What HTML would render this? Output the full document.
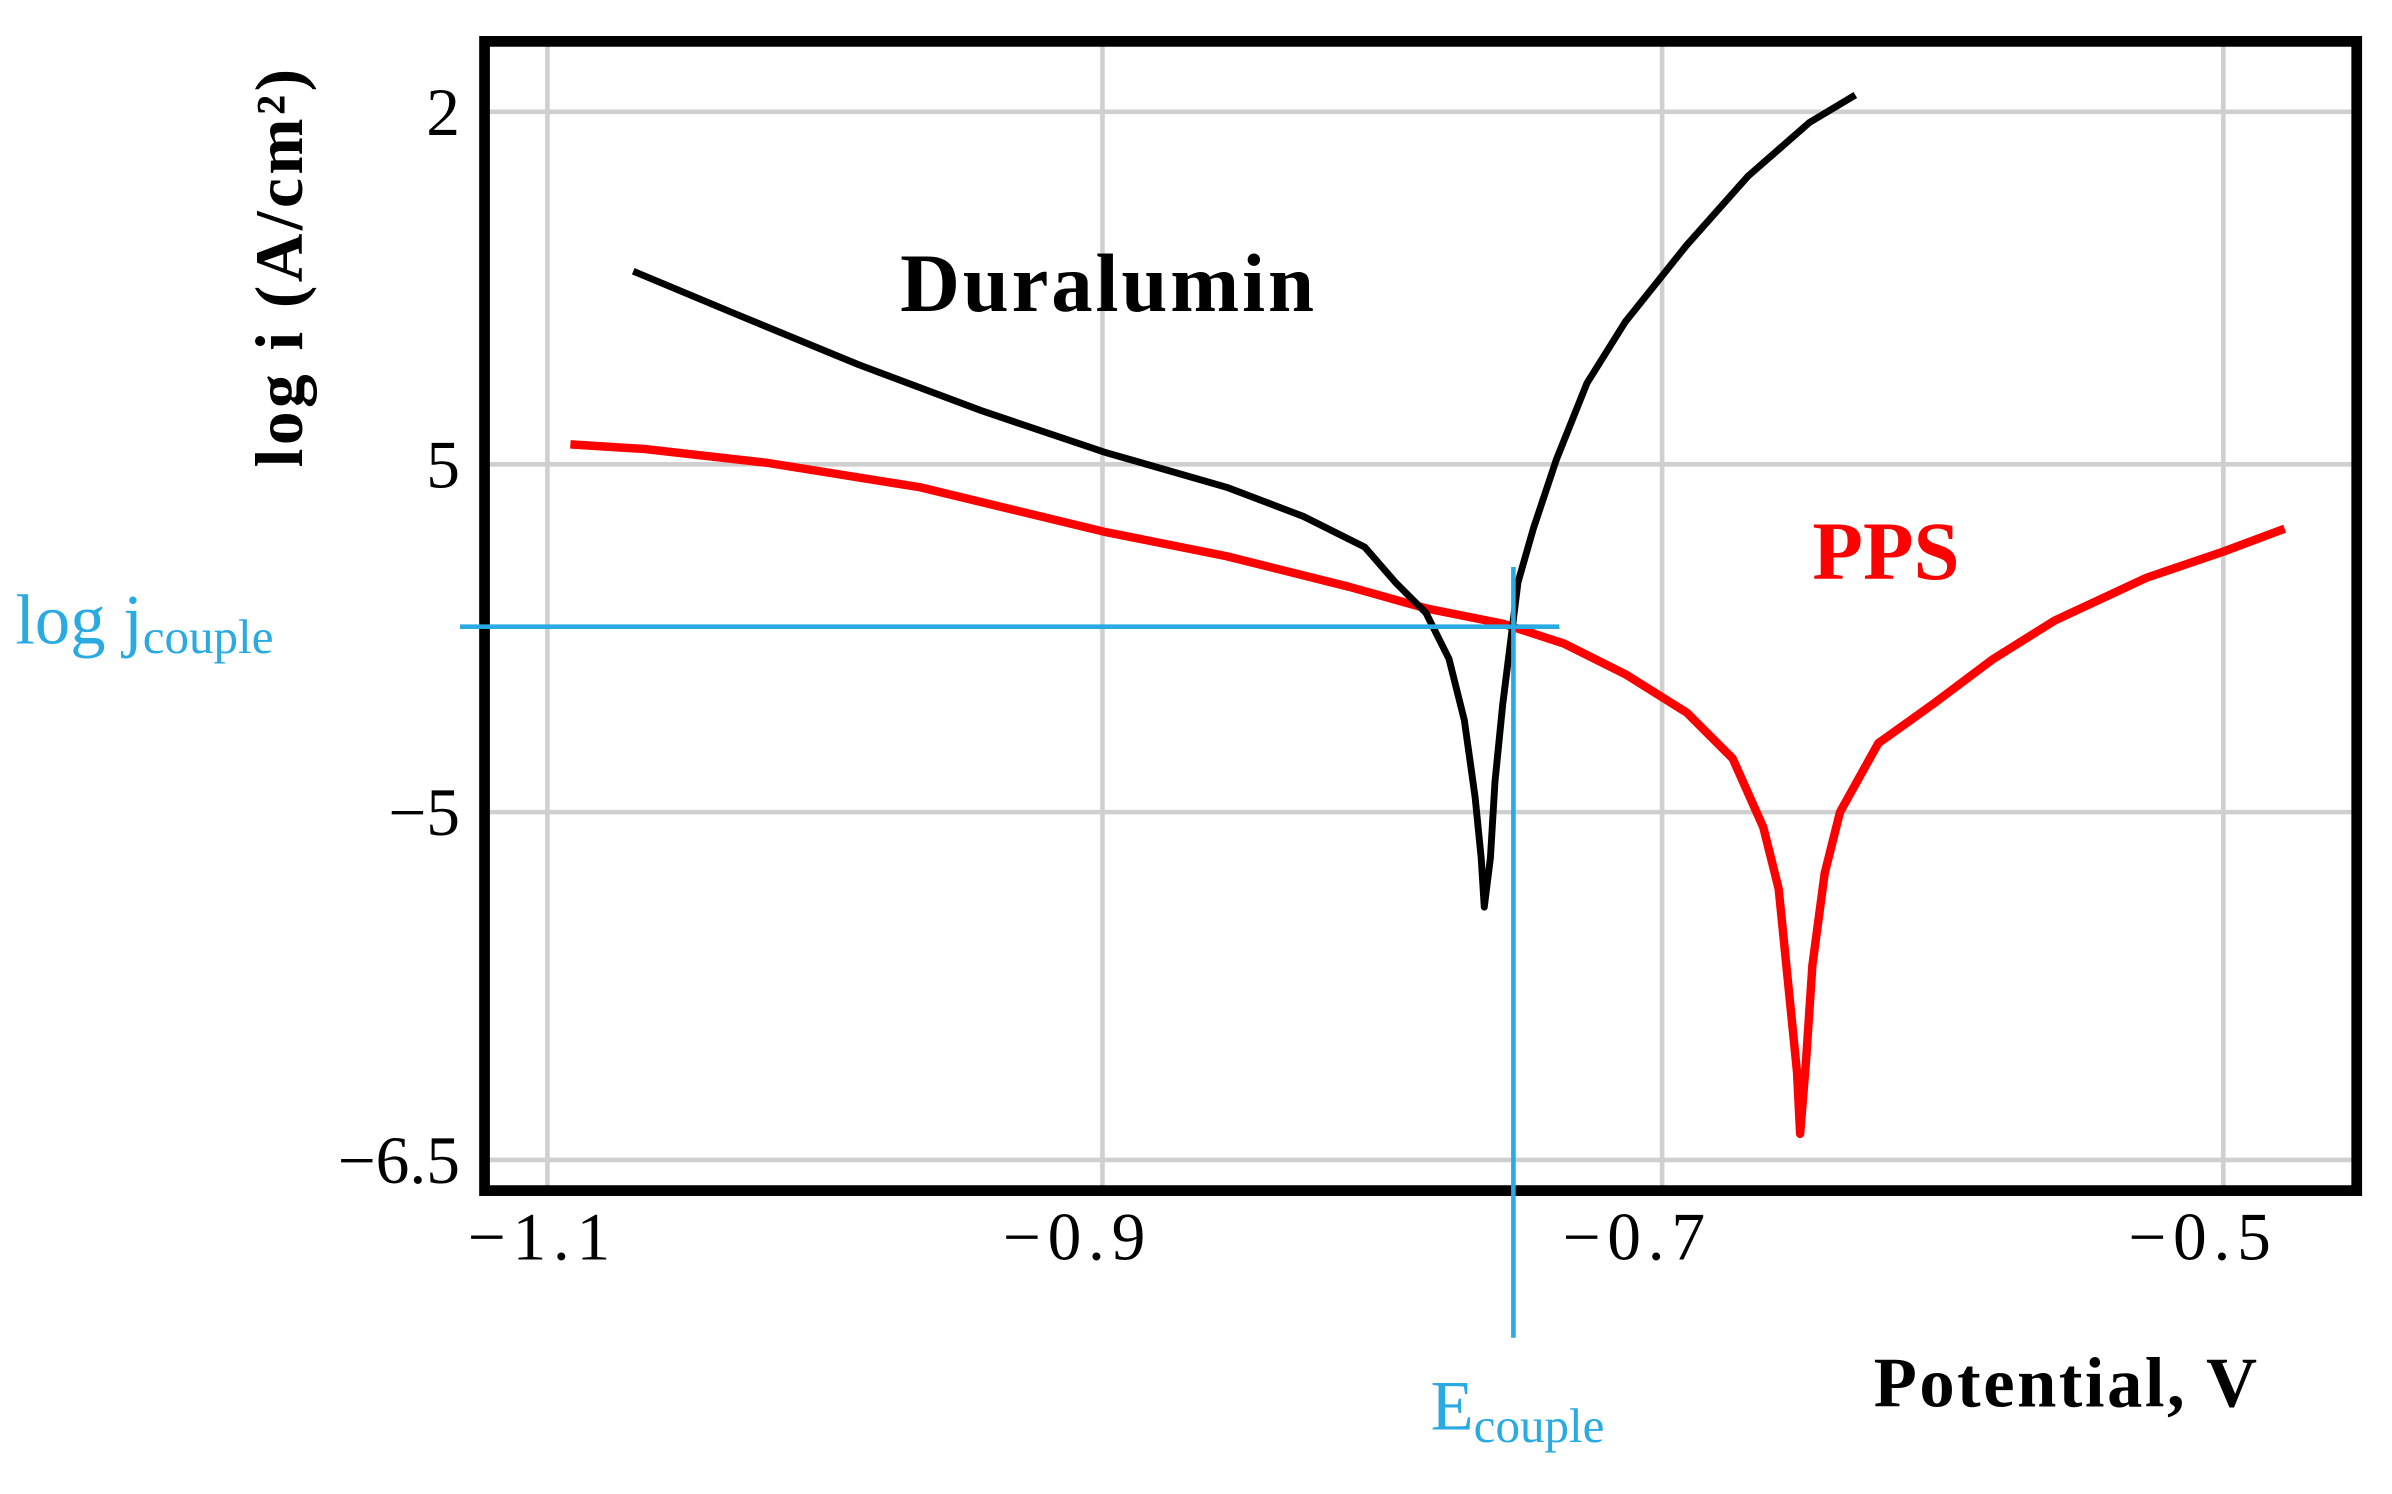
<!DOCTYPE html>
<html><head><meta charset="utf-8"><style>
html,body{margin:0;padding:0;background:#fff;}
svg{display:block;}
text{font-family:"Liberation Serif",serif;}
</style></head><body>
<svg width="2392" height="1494" viewBox="0 0 1560 975" preserveAspectRatio="none" xmlns="http://www.w3.org/2000/svg">
<rect width="1560" height="975" fill="#fff"/>
<g stroke="#cfcfcf" stroke-width="3">
<line x1="357" y1="30" x2="357" y2="774"/>
<line x1="719" y1="30" x2="719" y2="774"/>
<line x1="1084" y1="30" x2="1084" y2="774"/>
<line x1="1450" y1="30" x2="1450" y2="774"/>
<line x1="319" y1="73" x2="1537" y2="73"/>
<line x1="319" y1="303" x2="1537" y2="303"/>
<line x1="319" y1="530" x2="1537" y2="530"/>
<line x1="319" y1="757" x2="1537" y2="757"/>
</g>
<rect x="316" y="27" width="1221" height="750" fill="none" stroke="#000" stroke-width="7"/>
<polyline fill="none" stroke="#ff0000" stroke-width="5.5" stroke-linejoin="round" points="372,290 420,293 500,302 600,318 720,347 800,363 880,383 930,397 980,407 1020,420 1060,440 1100,465 1130,495 1150,540 1160,580 1166,640 1172,700 1174,740 1178,690 1182,630 1190,570 1200,530 1225,485 1260,460 1300,430 1340,405 1400,377 1450,360 1490,345"/>
<polyline fill="none" stroke="#000" stroke-width="4.5" stroke-linejoin="round" points="413,177 480,205 560,238 640,268 720,295 800,318 850,337 890,357 910,380 930,400 945,430 955,470 962,520 966,560 968,592 972,560 975,510 980,460 985,420 990,380 1000,345 1015,300 1035,250 1060,210 1100,160 1140,115 1180,80 1210,62"/>
<g stroke="#29aae2" stroke-width="3">
<line x1="300" y1="409" x2="1017" y2="409"/>
<line x1="987" y1="370" x2="987" y2="873"/>
</g>
<g font-size="44" fill="#000" text-anchor="end">
<text x="300" y="88">2</text>
<text x="300" y="318">5</text>
<text x="300" y="545">−5</text>
<text x="300" y="772">−6.5</text>
</g>
<g font-size="44" fill="#000">
<text x="305" y="822" textLength="93">−1.1</text>
<text x="654" y="822" textLength="93">−0.9</text>
<text x="1019" y="822" textLength="93">−0.7</text>
<text x="1388" y="822" textLength="93">−0.5</text>
</g>
<text x="587" y="203" font-size="54" font-weight="bold" textLength="270">Duralumin</text>
<text x="1182" y="378" font-size="54" font-weight="bold" fill="#ff0000" textLength="96">PPS</text>
<text transform="translate(197,175) rotate(-90)" text-anchor="middle" font-size="44" font-weight="bold" textLength="260">log i (A/cm²)</text>
<text x="1222" y="918" font-size="46" font-weight="bold" textLength="250">Potential, V</text>
<text x="10" y="420" font-size="46" fill="#29aae2">log j<tspan font-size="32" dy="6">couple</tspan></text>
<text x="933" y="933" font-size="46" fill="#29aae2">E<tspan font-size="32" dy="8">couple</tspan></text>
</svg>
</body></html>
